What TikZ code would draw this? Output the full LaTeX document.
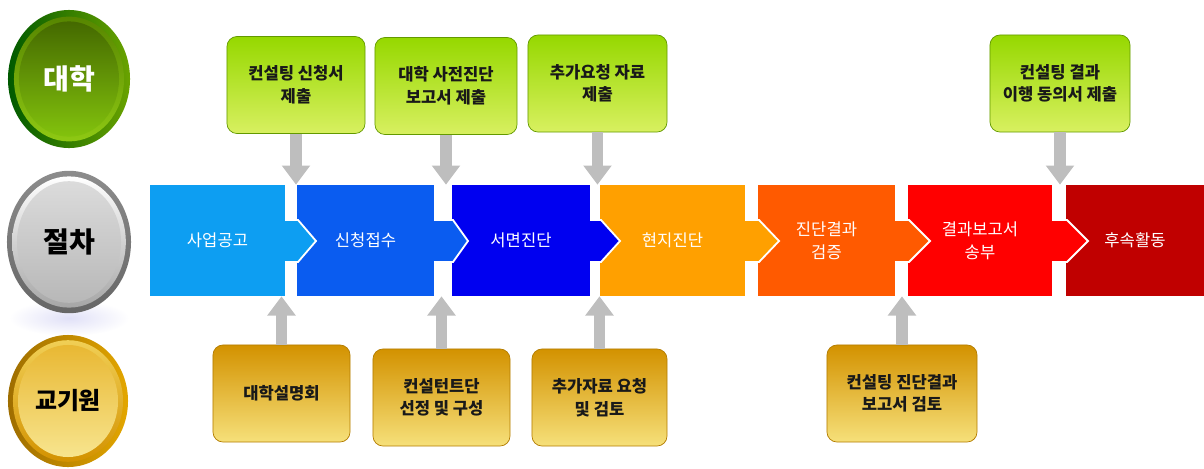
\documentclass[tikz,border=0pt]{standalone}
\usepackage{fontspec}
\setmainfont{Noto Sans CJK KR}
\usetikzlibrary{arrows.meta}

\definecolor{procA}{HTML}{0D9EF2}
\definecolor{procB}{HTML}{0A5CF0}
\definecolor{procC}{HTML}{0000F0}
\definecolor{procD}{HTML}{FFA000}
\definecolor{procE}{HTML}{FF5A00}
\definecolor{procF}{HTML}{FF0000}
\definecolor{procG}{HTML}{C00000}
\definecolor{leafTop}{HTML}{96D800}
\definecolor{leafMid}{HTML}{7CBF00}
\definecolor{leafBot}{HTML}{D8F060}
\definecolor{goldTop}{HTML}{D39200}
\definecolor{goldMid}{HTML}{E3A600}
\definecolor{goldBot}{HTML}{F6E07A}
\definecolor{linkGray}{HTML}{BEBEBE}

\begin{document}
\begin{tikzpicture}[x=0.025cm, y=-0.025cm,
    procbox/.style={rectangle, minimum height=2.775cm, inner sep=0pt, text=white,
        font=\fontsize{11.8}{16.5}\selectfont, align=center},
    unibox/.style={rectangle, rounded corners=0.25cm, draw=leafMid!80!black, line width=0.5pt,
        top color=leafTop, middle color=leafMid, bottom color=leafBot,
        minimum height=2.425cm, inner sep=0pt, text=black!90,
        font=\fontsize{11.8}{16}\selectfont\bfseries, align=center},
    kedibox/.style={rectangle, rounded corners=0.25cm, draw=goldTop!85!black, line width=0.5pt,
        top color=goldTop, middle color=goldMid, bottom color=goldBot,
        minimum height=2.425cm, inner sep=0pt, text=black!90,
        font=\fontsize{11.8}{16}\selectfont\bfseries, align=center},
    tab/.style={draw=white, line width=1.3pt, line join=miter},
    graylink/.style={draw=linkGray, line width=0.28cm, -{Triangle[width=0.68cm, length=0.48cm]}}]
    \useasboundingbox (0,0) rectangle (1204,468);

    % Circles
    \shade[left color=green!35!black, right color=leafMid!85!black] (69,79) ellipse (1.525cm and 1.725cm);
    \shade[top color=leafMid!70!black, bottom color=leafMid!80!leafBot] (69,79) ellipse (1.375cm and 1.56cm);
    \shade[top color=leafMid!55!black, bottom color=leafMid!95!white] (69,79) ellipse (1.25cm and 1.44cm);
    \node[font=\fontsize{20}{20}\selectfont\bfseries, text=white] (C1) at (69,79) {대학};

    \shade[inner color=black!25!blue!12, outer color=white] (69,318) ellipse (1.5cm and 0.45cm);
    \shade[top color=black!45, bottom color=black!60] (69,242) ellipse (1.55cm and 1.78cm);
    \shade[top color=white, bottom color=black!35] (69,242) ellipse (1.42cm and 1.64cm);
    \shade[top color=black!14, bottom color=black!28] (69,242) ellipse (1.3cm and 1.52cm);
    \node[font=\fontsize{20}{20}\selectfont\bfseries, text=black] (C2) at (69,242) {절차};

    \shade[left color=goldTop!75!black, right color=goldMid] (68,401) ellipse (1.5cm and 1.65cm);
    \shade[top color=goldBot!70!goldMid, bottom color=goldTop] (68,401) ellipse (1.375cm and 1.52cm);
    \shade[top color=goldMid!80!white, bottom color=goldBot!85!white] (68,401) ellipse (1.25cm and 1.4cm);
    \node[font=\fontsize{17}{17}\selectfont\bfseries, text=black] (C3) at (68,401) {교기원};

    % Steps
    \node[procbox, fill=procG, minimum width=3.45cm] (P7) at (1135,240.5) {후속활동};

    \node[procbox, fill=procF, minimum width=3.6cm] (P6) at (980,240.5) {결과보고서\\송부};
    \path[tab, fill=procF] (1052,220) -- (1067,220) -- (1088,241) -- (1067,262) -- (1052,262);

    \node[procbox, fill=procE, minimum width=3.425cm] (P5) at (826.5,240.5) {진단결과\\검증};
    \path[tab, fill=procE] (895,220) -- (909,220) -- (930,241) -- (909,262) -- (895,262);

    \node[procbox, fill=procD, minimum width=3.625cm] (P4) at (672.5,240.5) {현지진단};
    \path[tab, fill=procD] (745,220) -- (759,220) -- (779,241) -- (759,262) -- (745,262);

    \node[procbox, fill=procC, minimum width=3.45cm] (P3) at (521,240.5) {서면진단};
    \path[tab, fill=procC] (590,220) -- (601,220) -- (620,241) -- (601,262) -- (590,262);

    \node[procbox, fill=procB, minimum width=3.425cm] (P2) at (365.5,240.5) {신청접수};
    \path[tab, fill=procB] (434,220) -- (453,220) -- (468,241) -- (453,262) -- (434,262);

    \node[procbox, fill=procA, minimum width=3.375cm] (P1) at (217.5,240.5) {사업공고};
    \path[tab, fill=procA] (285,220) -- (298,220) -- (316,241) -- (298,262) -- (285,262);

    % University
    \node[unibox, minimum width=3.45cm] (U1) at (296,85) {컨설팅 신청서\\제출};
    \node[unibox, minimum width=3.55cm] (U2) at (446,86) {대학 사전진단\\보고서 제출};
    \node[unibox, minimum width=3.475cm] (U3) at (597.5,83.5) {추가요청 자료\\제출};
    \node[unibox, minimum width=3.5cm] (U4) at (1060,83.5) {컨설팅 결과\\이행 동의서 제출};

    % KEDI
    \node[kedibox, minimum width=3.425cm] (K1) at (281.5,393.5) {대학설명회};
    \node[kedibox, minimum width=3.425cm] (K2) at (441.5,397.5) {컨설턴트단\\선정 및 구성};
    \node[kedibox, minimum width=3.375cm] (K3) at (599.5,397.5) {추가자료 요청\\및 검토};
    \node[kedibox, minimum width=3.75cm] (K4) at (902,393.5) {컨설팅 진단결과\\보고서 검토};

    % Lines
    \draw[graylink] (U1.south) -- (U1.south |- P1.north);
    \draw[graylink] (U2.south) -- (U2.south |- P1.north);
    \draw[graylink] (U3.south) -- (U3.south |- P1.north);
    \draw[graylink] (U4.south) -- (U4.south |- P1.north);

    \draw[graylink] (K1.north) -- (K1.north |- P1.south);
    \draw[graylink] (K2.north) -- (K2.north |- P1.south);
    \draw[graylink] (K3.north) -- (K3.north |- P1.south);
    \draw[graylink] (K4.north) -- (K4.north |- P1.south);

\end{tikzpicture}
\end{document}
